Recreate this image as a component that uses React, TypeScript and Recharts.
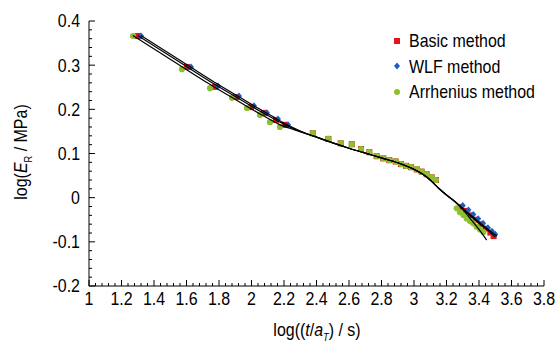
import { ComposedChart, Line, Scatter, XAxis, YAxis } from 'recharts'

// measured points, [log(t/aT), log(ER)]
const basicPts: [number, number][] = [
  [1.302, 0.366], [1.603, 0.296], [1.775, 0.251], [1.905, 0.228], [1.997, 0.205],
  [2.077, 0.192], [2.151, 0.176], [2.206, 0.165],
  [2.377, 0.146], [2.473, 0.133], [2.549, 0.123], [2.617, 0.121], [2.674, 0.11],
  [2.725, 0.103], [2.77, 0.094], [2.811, 0.089], [2.848, 0.085], [2.887, 0.082],
  [2.92, 0.076], [2.951, 0.072], [2.982, 0.069], [3.017, 0.064], [3.047, 0.059],
  [3.078, 0.053], [3.109, 0.046], [3.135, 0.04],
  [3.29, -0.021], [3.32, -0.03], [3.35, -0.04], [3.38, -0.05], [3.41, -0.06],
  [3.44, -0.07], [3.47, -0.079], [3.49, -0.087],
]
const wlfPts: [number, number][] = [
  [1.32, 0.366], [1.628, 0.296], [1.794, 0.253], [1.923, 0.23], [2.015, 0.208],
  [2.095, 0.192], [2.163, 0.178], [2.225, 0.165],
  [3.3, -0.018], [3.335, -0.028], [3.365, -0.038], [3.395, -0.048], [3.425, -0.058],
  [3.455, -0.068], [3.48, -0.076], [3.5, -0.083],
]
const arrheniusPts: [number, number][] = [
  [1.271, 0.366], [1.572, 0.291], [1.745, 0.248], [1.88, 0.226], [1.972, 0.203],
  [2.052, 0.187], [2.114, 0.171], [2.175, 0.16],
  [2.377, 0.146], [2.473, 0.133], [2.549, 0.123], [2.617, 0.121], [2.674, 0.11],
  [2.725, 0.103], [2.77, 0.094], [2.811, 0.089], [2.848, 0.085], [2.887, 0.082],
  [2.92, 0.076], [2.951, 0.072], [2.982, 0.069], [3.017, 0.064], [3.047, 0.059],
  [3.078, 0.053], [3.109, 0.046], [3.135, 0.04],
  [3.263, -0.024], [3.283, -0.033], [3.304, -0.039], [3.324, -0.047], [3.345, -0.053],
  [3.365, -0.058], [3.386, -0.066], [3.406, -0.072], [3.427, -0.078],
]

// fitted master curves
const basicFit: [number, number][] = [
  [1.3, 0.367], [1.45, 0.332], [1.6, 0.297], [1.75, 0.262], [1.9, 0.229], [2.0, 0.207],
  [2.1, 0.186], [2.2, 0.166], [2.3, 0.15], [2.4, 0.137], [2.5, 0.124], [2.6, 0.112],
  [2.7, 0.101], [2.8, 0.09], [2.9, 0.079], [3.0, 0.064], [3.05, 0.054], [3.1, 0.04],
  [3.15, 0.022], [3.2, 0.006], [3.25, -0.008], [3.3, -0.025], [3.35, -0.042],
  [3.4, -0.058], [3.45, -0.073], [3.5, -0.089],
]
const wlfFit: [number, number][] = [
  [1.32, 0.367], [1.47, 0.332], [1.62, 0.297], [1.77, 0.262], [1.92, 0.229], [2.02, 0.207],
  [2.12, 0.186], [2.22, 0.165], [2.3, 0.151], [2.4, 0.137], [2.5, 0.124], [2.6, 0.112],
  [2.7, 0.101], [2.8, 0.09], [2.9, 0.079], [3.0, 0.064], [3.05, 0.054], [3.1, 0.04],
  [3.15, 0.022], [3.2, 0.006], [3.25, -0.008], [3.3, -0.024], [3.35, -0.04],
  [3.4, -0.055], [3.45, -0.07], [3.51, -0.087],
]
const arrheniusFit: [number, number][] = [
  [1.27, 0.367], [1.42, 0.332], [1.57, 0.297], [1.72, 0.262], [1.87, 0.229], [1.97, 0.207],
  [2.07, 0.186], [2.17, 0.166], [2.27, 0.153], [2.35, 0.143], [2.4, 0.137], [2.5, 0.124],
  [2.6, 0.112], [2.7, 0.101], [2.8, 0.09], [2.9, 0.079], [3.0, 0.064], [3.05, 0.054],
  [3.1, 0.04], [3.15, 0.022], [3.2, 0.006], [3.25, -0.009], [3.3, -0.027],
  [3.35, -0.049], [3.4, -0.072], [3.447, -0.096],
]

const xMajor = [1, 1.2, 1.4, 1.6, 1.8, 2, 2.2, 2.4, 2.6, 2.8, 3, 3.2, 3.4, 3.6, 3.8]
const yMajor = [-0.2, -0.1, 0, 0.1, 0.2, 0.3, 0.4]

const RED = '#e3141b'
const BLUE = '#1c5fc4'
const GREEN = '#8cc02e'
const FONT = "'Liberation Sans', Arial, sans-serif"
const SQUEEZE = 0.84 // the original font is a narrow one

// 4 minor ticks between each pair of majors
function withMinors(major: number[]) {
  const out: number[] = []
  for (let i = 0; i < major.length; i++) {
    out.push(major[i])
    if (i < major.length - 1) {
      const step = (major[i + 1] - major[i]) / 5
      for (let k = 1; k < 5; k++) out.push(+(major[i] + k * step).toFixed(4))
    }
  }
  return out
}
const isMajor = (v: number, list: number[]) => list.some((m) => Math.abs(m - v) < 1e-6)

const toObj = (pts: [number, number][]) => pts.map(([x, y]) => ({ x, y }))

function XTick(props: any) {
  const { x, y, payload } = props
  const major = isMajor(payload.value, xMajor)
  return (
    <g>
      <line x1={x} x2={x} y1={y} y2={y - (major ? 6 : 3)} stroke="#000" strokeWidth={1} />
      {major && (
        <text transform={`translate(${x},${y + 13}) scale(${SQUEEZE},1)`} textAnchor="middle"
          dominantBaseline="central" fontFamily={FONT} fontSize={19} fill="#000">
          {String(payload.value)}
        </text>
      )}
    </g>
  )
}

function YTick(props: any) {
  const { x, y, payload } = props
  const major = isMajor(payload.value, yMajor)
  return (
    <g>
      <line x1={x} x2={x + (major ? 6 : 3)} y1={y} y2={y} stroke="#000" strokeWidth={1} />
      {major && (
        <text transform={`translate(${x - 9},${y}) scale(${SQUEEZE},1)`} textAnchor="end"
          dominantBaseline="central" fontFamily={FONT} fontSize={19} fill="#000">
          {String(payload.value)}
        </text>
      )}
    </g>
  )
}

const square = (p: any) => <rect x={p.cx - 3} y={p.cy - 3} width={6} height={6} fill={RED} />
const diamond = (p: any) => (
  <path d={`M${p.cx},${p.cy - 3.5}L${p.cx + 3},${p.cy}L${p.cx},${p.cy + 3.5}L${p.cx - 3},${p.cy}Z`} fill={BLUE} />
)
const circle = (p: any) => <circle cx={p.cx} cy={p.cy} r={3.1} fill={GREEN} />

const legendItems = [
  { name: 'Basic method', color: RED, kind: 'square' },
  { name: 'WLF method', color: BLUE, kind: 'diamond' },
  { name: 'Arrhenius method', color: GREEN, kind: 'circle' },
]

function Marker({ kind, color }: { kind: string; color: string }) {
  return (
    <svg width={10} height={10} style={{ marginRight: 7 }}>
      {kind === 'square' && <rect x={2} y={2} width={6} height={6} fill={color} />}
      {kind === 'diamond' && <path d="M5,1.5L8,5L5,8.5L2,5Z" fill={color} />}
      {kind === 'circle' && <circle cx={5} cy={5} r={3} fill={color} />}
    </svg>
  )
}

const titleStyle = { position: 'absolute' as const, fontFamily: FONT, fontSize: 19, lineHeight: '20px', whiteSpace: 'nowrap' as const }

const lineProps = {
  dataKey: 'y',
  type: 'monotone' as const,
  stroke: '#000',
  strokeWidth: 1.2,
  dot: false,
  activeDot: false,
  isAnimationActive: false,
  zIndex: 700,
}

export default function App() {
  return (
    <div style={{ position: 'absolute', left: 0, top: 0, width: 559, height: 342, background: '#fff' }}>
      <ComposedChart width={559} height={342} margin={{ top: 21, right: 15, left: 29, bottom: 26 }}>
        <XAxis type="number" dataKey="x" domain={[1, 3.8]} ticks={withMinors(xMajor)} interval={0}
          allowDataOverflow height={30} tickSize={0} tickMargin={0} tick={<XTick />}
          axisLine={{ stroke: '#000' }} tickLine={false} />
        <YAxis type="number" dataKey="y" domain={[-0.2, 0.4]} ticks={withMinors(yMajor)} interval={0}
          allowDataOverflow width={60} tickSize={0} tickMargin={0} tick={<YTick />}
          axisLine={{ stroke: '#000' }} tickLine={false} />
        <Scatter data={toObj(basicPts)} shape={square} isAnimationActive={false} />
        <Scatter data={toObj(wlfPts)} shape={diamond} isAnimationActive={false} />
        <Scatter data={toObj(arrheniusPts)} shape={circle} isAnimationActive={false} />
        <Line data={toObj(basicFit)} {...lineProps} />
        <Line data={toObj(wlfFit)} {...lineProps} />
        <Line data={toObj(arrheniusFit)} {...lineProps} />
      </ComposedChart>

      {/* legend */}
      <div style={{ position: 'absolute', left: 392, top: 28, fontFamily: FONT, fontSize: 19, lineHeight: '25.5px' }}>
        {legendItems.map((it) => (
          <div key={it.name} style={{ display: 'flex', alignItems: 'center' }}>
            <Marker kind={it.kind} color={it.color} />
            <span style={{ display: 'inline-block', transform: `scaleX(${SQUEEZE})`, transformOrigin: 'left center' }}>
              {it.name}
            </span>
          </div>
        ))}
      </div>

      {/* axis titles */}
      <div style={{ ...titleStyle, left: 21, top: 152, transform: `translate(-50%, -50%) rotate(-90deg) scaleX(${SQUEEZE})` }}>
        log(<i>E</i><sub style={{ fontSize: 11, lineHeight: 0 }}>R</sub> / MPa)
      </div>
      <div style={{ ...titleStyle, left: 317, top: 330, transform: `translate(-50%, -50%) scaleX(${SQUEEZE})` }}>
        log((<i>t</i>/<i>a</i><sub style={{ fontSize: 11, lineHeight: 0 }}><i>T</i></sub>) / s)
      </div>
    </div>
  )
}
